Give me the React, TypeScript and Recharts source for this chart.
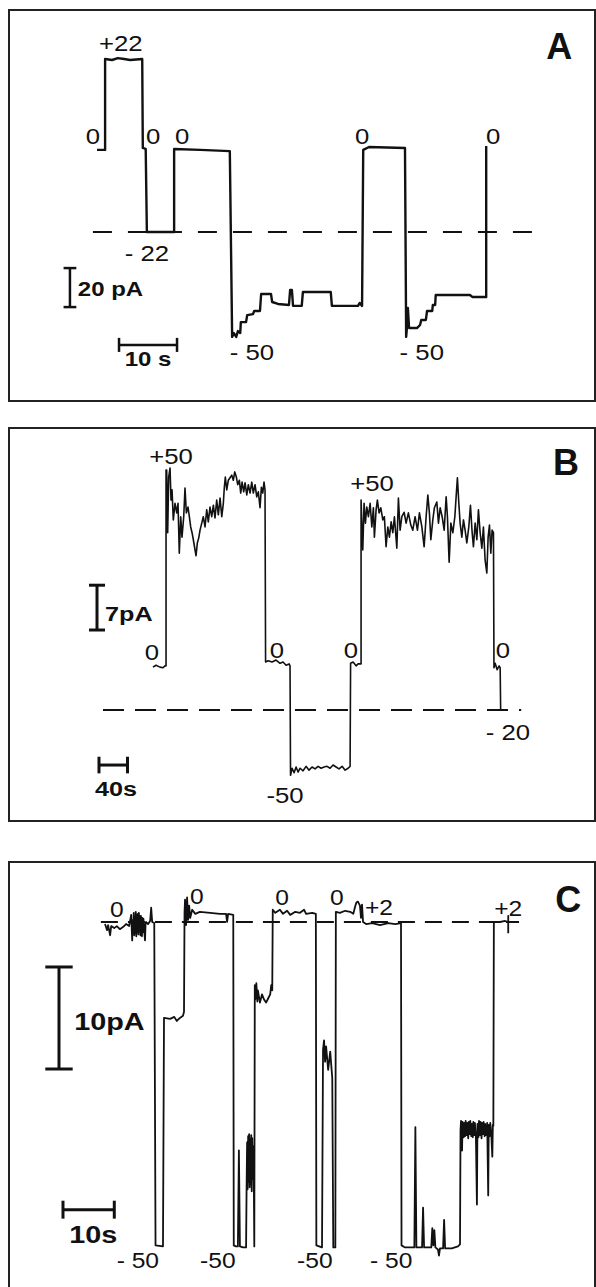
import React from "react";
import { LineChart, Line, XAxis, YAxis, ReferenceLine, ReferenceDot } from "recharts";

const FONT = '"Liberation Sans", Arial, Helvetica, sans-serif';
const INK = "#111";

// ---------- Panel A : time (s), current (pA) ----------
const traceA: [number, number][] = [
  [0, 42.1], [1.4, 42.1], [1.4, 88.7], [2.6, 88.2], [3.6, 89.2], [4.7, 88.7], [5.7, 88.2],
  [7.8, 88.7], [7.9, 43.1], [8.4, 42.6], [8.6, 0], [13.3, 0], [13.3, 42.6], [17.8, 42.1],
  [22.9, 41.5], [23.3, -53.8], [23.6, -51.8], [24.0, -53.8], [24.3, -50.8], [24.7, -51.8],
  [24.8, -46.2], [25.7, -46.2], [25.9, -42.6], [26.9, -42.1], [27.1, -40.5], [28.1, -40.5],
  [28.3, -31.8], [30.0, -31.8], [30.2, -35.9], [31.2, -36.9], [33.1, -37.4], [33.3, -29.7],
  [33.6, -29.7], [33.8, -37.9], [35.3, -37.9], [35.5, -30.8], [40.3, -30.8], [40.5, -37.9],
  [45.0, -37.9], [45.3, -36.4], [45.7, -37.9], [45.9, 42.1], [46.9, 43.6], [53.1, 43.1],
  [53.3, -53.8], [53.4, -50.3], [53.6, -39.0], [53.8, -49.2], [55.2, -49.2], [55.7, -47.7],
  [55.9, -45.1], [56.7, -45.1], [56.9, -40.5], [57.8, -40.5], [57.9, -37.4], [58.3, -37.4],
  [58.4, -32.3], [64.3, -32.3], [64.7, -33.3], [67.1, -33.3], [67.1, 42.1], [67.1, 44.1],
];
// holding-voltage tags (mV): time, current, text
const tagsA: [number, number, string][] = [
  [4.1, 96.9, "+22"], [-0.7, 49.2, "0"], [9.7, 49.2, "0"], [14.7, 49.2, "0"],
  [45.7, 49.2, "0"], [68.3, 49.2, "0"], [8.6, -10.8, "- 22"], [26.7, -61.5, "- 50"],
  [56.0, -61.5, "- 50"],
];

// ---------- Panel B ----------
const traceB: [number, number][] = [
  [0, 6.7], [4.2, 7.0], [9.8, 6.7], [14.0, 6.6], [16.8, 6.9], [18.3, 6.9], [18.3, 37.5],
  [19.2, 37.5], [20.6, 27.7], [22.0, 36.4], [23.9, 37.8], [25.3, 32.8], [26.7, 34.4],
  [28.5, 29.7], [30.9, 32.3], [33.3, 30.8], [35.1, 32.3], [36.9, 24.5], [38.9, 30.2],
  [40.7, 27.0], [43.1, 30.2], [44.9, 34.7], [46.8, 30.8], [49.1, 31.7], [51.0, 30.2],
  [52.9, 28.6], [54.8, 27.7], [56.6, 26.6], [59.0, 25.0], [60.4, 24.1], [62.2, 26.1],
  [64.2, 26.9], [66.0, 28.1], [68.4, 29.2], [70.6, 30.2], [73.0, 28.6], [75.4, 31.3],
  [77.6, 29.4], [80.0, 31.7], [82.4, 30.2], [84.7, 32.0], [87.0, 30.0], [89.4, 32.8],
  [91.7, 30.5], [94.1, 33.1], [96.5, 30.2], [98.7, 32.3], [100.1, 34.8], [101.5, 36.4],
  [103.5, 34.4], [105.7, 35.9], [108.1, 36.3], [110.5, 36.7], [112.7, 35.9], [114.7, 37.2],
  [117.0, 36.4], [118.9, 35.2], [121.2, 35.9], [123.1, 33.9], [125.0, 35.6], [127.3, 34.1],
  [129.2, 35.5], [131.6, 33.6], [133.8, 35.2], [136.2, 33.9], [138.6, 35.6], [140.8, 33.9],
  [143.2, 35.2], [145.6, 33.3], [147.8, 34.1], [150.2, 31.6], [152.1, 34.8], [154.0, 33.9],
  [155.8, 35.6], [157.2, 34.4], [158.0, 7.5], [161.5, 7.7], [167.1, 7.5], [172.7, 7.8],
  [178.3, 7.3], [182.5, 7.5], [186.7, 7.0], [191.0, 7.2], [192.3, 6.9], [193.0, -10.2],
  [195.2, -9.1], [198.0, -9.8], [200.8, -8.9], [203.6, -9.7], [206.4, -9.1], [210.6, -9.5],
  [214.8, -8.8], [219.0, -9.4], [223.2, -8.9], [227.4, -9.2], [231.7, -8.8], [235.9, -9.1],
  [240.1, -8.9], [244.3, -8.8], [248.5, -9.1], [252.7, -8.6], [256.9, -8.9], [261.1, -9.2],
  [265.4, -8.8], [269.6, -9.4], [273.8, -9.1], [276.6, -8.8], [277.3, 7.3], [280.8, 7.5],
  [285.0, 6.9], [287.8, 7.2], [292.0, 7.2], [292.0, 32.8], [294.4, 25.0], [296.2, 32.3],
  [298.1, 29.2], [300.0, 31.7], [302.3, 30.2], [304.7, 32.3], [307.1, 28.6], [309.3, 31.6],
  [310.7, 27.0], [313.1, 31.3], [314.9, 32.8], [317.3, 30.8], [319.7, 31.6], [322.5, 29.7],
  [324.7, 30.2], [327.1, 25.5], [329.5, 28.6], [331.8, 27.0], [334.2, 29.4], [336.5, 27.7],
  [338.8, 30.2], [342.2, 25.3], [344.4, 33.1], [346.8, 28.1], [349.2, 30.2], [352.4, 30.9],
  [355.2, 29.2], [358.4, 30.8], [361.8, 28.9], [364.6, 28.1], [367.8, 30.2], [371.1, 28.1],
  [373.9, 30.8], [377.3, 28.6], [380.5, 25.5], [383.3, 30.2], [385.7, 33.6], [387.9, 30.8],
  [389.9, 26.6], [392.7, 29.7], [394.9, 31.6], [398.3, 32.5], [400.6, 29.2], [403.0, 31.6],
  [405.8, 30.2], [408.6, 28.1], [411.4, 33.3], [413.2, 30.2], [415.6, 23.1], [418.0, 29.2],
  [420.8, 27.7], [423.6, 30.2], [425.4, 33.3], [427.2, 36.3], [429.2, 32.3], [431.0, 29.2],
  [433.4, 27.0], [435.7, 29.7], [438.0, 28.1], [440.4, 26.1], [443.2, 28.6], [445.5, 32.0],
  [447.9, 27.7], [449.7, 25.5], [452.1, 29.2], [454.5, 26.6], [456.7, 31.3], [459.1, 27.7],
  [461.5, 25.3], [463.7, 28.6], [466.1, 23.4], [468.5, 21.4], [470.3, 27.0], [472.2, 28.9],
  [474.1, 24.5], [475.9, 28.1], [477.8, 27.7], [478.5, 6.6], [480.2, 7.3], [483.0, 6.3],
  [485.8, 6.9], [487.2, 6.6], [487.9, 0], [491.4, 0],
];
const tagsB: [number, number, string][] = [
  [25.3, 39.7, "+50"], [307.4, 35.5, "+50"], [-1.4, 9.1, "0"], [174.0, 9.4, "0"],
  [277.9, 9.4, "0"], [491.2, 9.4, "0"], [498.2, -3.4, "- 20"], [185.3, -13.3, "-50"],
];

// ---------- Panel C ----------
const traceC: [number, number][] = [
  [0, -0.2], [0.4, -0.8], [0.6, -0.3], [1.0, -1.3], [1.2, -0.4], [1.8, -0.6], [2.3, -0.4],
  [2.9, -0.7], [3.5, -0.5], [4.1, -0.2], [4.7, -0.4], [5.1, 0.7], [5.3, -1.8], [5.4, 0.2],
  [5.5, -1.0], [5.6, 0.9], [5.7, -1.3], [5.8, 0.5], [5.9, -1.1], [6.0, 1.0], [6.1, -1.4],
  [6.2, 0.7], [6.3, -1.0], [6.4, 0.8], [6.5, -1.2], [6.6, 0.9], [6.7, -0.9], [6.8, 0.6],
  [6.9, -1.3], [7.0, 0.6], [7.1, -0.8], [7.2, -1.4], [7.3, 0.4], [7.4, -1.0], [7.5, 0.3],
  [7.6, -0.6], [7.8, -1.8], [7.9, -0.2], [8.0, 0], [8.4, -0.2], [8.8, 0.1],
  [9.0, 1.4], [9.2, 0], [9.6, -0.1], [9.85, -31.7], [11.3, -31.8], [11.5, -9.4],
  [12.7, -9.5], [13.5, -9.3], [14.0, -9.7], [14.6, -9.4], [15.2, -9.2], [15.4, -8.8],
  [15.5, 0.9], [15.6, 2.2], [15.8, -0.3], [16.0, 2.4], [16.2, 0.2], [16.4, 1.6], [16.6, 0.4],
  [17.0, 1.2], [17.6, 0.8], [18.5, 1.0], [20.5, 0.9], [22.4, 0.8], [23.6, 0.8], [23.8, 0],
  [24.0, 0.8], [25.0, 0.7], [25.1, -31.7], [25.5, -31.8], [25.9, -31.8], [26.1, -22.4],
  [26.3, -31.8], [26.9, -31.9], [27.5, -31.9], [27.6, -25.9], [27.7, -21.6], [27.8, -26.2],
  [27.9, -21.0], [28.0, -25.5], [28.1, -20.8], [28.2, -26.0], [28.3, -21.3], [28.4, -25.7],
  [28.5, -20.9], [28.6, -26.4], [28.7, -21.2], [28.8, -25.2], [28.9, -22.0], [29.0, -24.8],
  [29.1, -31.8], [29.2, -6.2],
  [29.3, -7.6], [29.5, -6.0], [29.7, -7.8], [29.8, -6.7], [30.2, -7.9], [30.6, -7.1],
  [31.0, -7.6], [31.4, -7.9], [31.8, -7.5], [32.2, -7.1], [32.4, -6.2], [32.6, -6.7],
  [32.7, 1.2], [33.2, 0.9], [34.1, 1.2], [34.7, 0.8], [35.5, 1.1], [36.1, 0.7], [37.1, 1.0],
  [38.0, 0.9], [38.8, 1.2], [39.2, 0.8], [40.4, 0.9], [41.1, 0.8], [41.2, -31.7],
  [42.3, -31.9], [42.5, -12.5], [42.7, -11.6], [42.9, -13.7], [43.1, -12.2], [43.5, -14.5],
  [43.9, -12.7], [44.3, -15.3], [44.5, -31.9], [44.9, -31.9], [45.0, 1.0], [45.8, 0.9],
  [46.8, 1.1], [47.8, 1.0], [48.4, 0.8], [48.8, 1.6], [49.0, 1.9], [49.3, 2.0], [49.7, 1.6],
  [49.9, 0.4], [50.1, 1.7], [50.3, 0], [50.9, -0.2], [52.1, -0.1], [53.6, -0.3],
  [55.2, -0.1], [56.6, -0.2], [57.7, -0.1], [57.8, -31.7], [58.5, -31.9], [60.3, -31.9],
  [60.5, -20.1], [60.7, -31.9], [61.8, -31.9], [62.0, -28.0], [62.2, -31.9], [63.6, -31.9],
  [63.8, -30.0], [64.0, -31.7], [64.2, -30.2], [64.4, -31.9], [64.9, -32.1], [65.1, -32.7],
  [65.3, -32.0], [65.9, -32.0], [66.1, -29.2], [66.3, -32.0], [67.6, -32.0], [68.8, -31.8],
  [69.2, -31.6], [69.3, -20.4], [69.4, -19.5], [69.5, -21.0], [69.6, -22.4], [69.7, -19.6],
  [69.9, -21.1], [70.0, -19.7], [70.2, -21.0], [70.3, -19.5], [70.5, -20.9], [70.6, -19.7],
  [70.8, -21.2], [70.9, -19.6], [71.1, -20.8], [71.2, -19.5], [71.4, -21.0], [71.5, -19.8],
  [71.7, -21.1], [71.8, -19.6], [72.0, -20.9], [72.1, -19.7], [72.3, -21.0], [72.5, -27.7],
  [72.6, -19.8], [72.8, -21.1], [72.9, -19.5], [73.1, -20.9], [73.2, -19.6], [73.4, -21.2],
  [73.5, -19.7], [73.7, -20.8], [73.8, -19.6], [74.0, -21.0], [74.1, -19.8], [74.3, -20.9],
  [74.5, -19.7], [74.7, -26.8], [74.8, -19.9], [75.0, -21.0], [75.1, -19.7], [75.3, -20.8],
  [75.5, -23.0], [75.6, -19.9], [75.7, -20.0], [75.8, 0], [77.0, 0],
  [78.0, 0.1], [78.6, 0], [78.6, 0.6], [78.6, -1.1],
];
const tagsC: [number, number, string][] = [
  [2.3, 1.2, "0"], [17.9, 2.5, "0"], [34.5, 2.4, "0"], [45.2, 2.4, "0"], [53.4, 1.4, "+2"],
  [78.6, 1.3, "+2"], [6.4, -33.2, "- 50"], [22.0, -33.2, "-50"], [40.9, -33.2, "-50"],
  [55.8, -33.2, "- 50"],
];

type Box = { left: number; top: number; width: number; height: number };
type Panel = {
  box: Box;
  open?: boolean;
  trace: [number, number][];
  xDomain: [number, number];
  yDomain: [number, number];
  zero: [number, number];
  dash: string;
  width: number;
  tags: [number, number, string][];
  tagSize: number;
  vBar: { x: number; y0: number; y1: number; cap: number; text: string; tx: number; ty: number };
  hBar: { x0: number; x1: number; y: number; cap: number; text: string; tx: number; ty: number };
  barWidth: number;
  barFont: number;
  letter: [number, number, string];
};

const tag =
  (text: string, size: number, bold = false, anchor: "middle" | "start" = "middle", sx = 1.12) =>
  (p: any) =>
    (
      <text
        transform={`translate(${p.cx},${p.cy}) scale(${sx},1)`}
        textAnchor={anchor}
        dominantBaseline="central"
        fontFamily={FONT}
        fontSize={size}
        fontWeight={bold ? 700 : 400}
        fill={INK}
      >
        {text}
      </text>
    );

function TracePanel(p: Panel) {
  const data = p.trace.map(([t, v]) => ({ t, v }));
  const { vBar, hBar } = p;
  const seg = (a: [number, number], b: [number, number], key: string) => (
    <ReferenceLine
      key={key}
      segment={[{ x: a[0], y: a[1] }, { x: b[0], y: b[1] }]}
      stroke={INK}
      strokeWidth={p.barWidth}
    />
  );
  return (
    <>
      <div
        style={{
          position: "absolute",
          boxSizing: "border-box",
          ...p.box,
          border: "2px solid #222",
          borderBottom: p.open ? "none" : "2px solid #222",
        }}
      />
      <div style={{ position: "absolute", left: p.box.left, top: p.box.top }}>
        <LineChart width={p.box.width} height={p.box.height} data={data} margin={{ top: 0, right: 0, bottom: 0, left: 0 }}>
          <XAxis type="number" dataKey="t" domain={p.xDomain} hide allowDataOverflow />
          <YAxis type="number" domain={p.yDomain} hide allowDataOverflow />
          <ReferenceLine
            segment={[{ x: p.zero[0], y: 0 }, { x: p.zero[1], y: 0 }]}
            stroke={INK}
            strokeWidth={2}
            strokeDasharray={p.dash}
          />
          <Line
            type="linear"
            dataKey="v"
            stroke={INK}
            strokeWidth={p.width}
            strokeLinejoin="round"
            dot={false}
            activeDot={false}
            isAnimationActive={false}
          />
          {seg([vBar.x, vBar.y0], [vBar.x, vBar.y1], "v")}
          {seg([vBar.x - vBar.cap, vBar.y0], [vBar.x + vBar.cap, vBar.y0], "vc0")}
          {seg([vBar.x - vBar.cap, vBar.y1], [vBar.x + vBar.cap, vBar.y1], "vc1")}
          {seg([hBar.x0, hBar.y], [hBar.x1, hBar.y], "h")}
          {seg([hBar.x0, hBar.y - hBar.cap], [hBar.x0, hBar.y + hBar.cap], "hc0")}
          {seg([hBar.x1, hBar.y - hBar.cap], [hBar.x1, hBar.y + hBar.cap], "hc1")}
          {p.tags.map(([t, v, s], i) => (
            <ReferenceDot key={`g${i}`} x={t} y={v} r={0} shape={tag(s, p.tagSize)} />
          ))}
          <ReferenceDot x={vBar.tx} y={vBar.ty} r={0} shape={tag(vBar.text, p.barFont, true, "start", 1.2)} />
          <ReferenceDot x={hBar.tx} y={hBar.ty} r={0} shape={tag(hBar.text, p.barFont, true, "middle", 1.2)} />
          <ReferenceDot x={p.letter[0]} y={p.letter[1]} r={0} shape={tag(p.letter[2], 36, true, "middle", 1)} />
        </LineChart>
      </div>
    </>
  );
}

export default function App() {
  return (
    <div style={{ position: "absolute", left: 0, top: 0, width: 596, height: 1287, background: "#fff", overflow: "hidden" }}>
      <TracePanel
        box={{ left: 8, top: 9, width: 588, height: 393 }}
        trace={traceA}
        xDomain={[-15.34, 86.03]}
        yDomain={[-87.18, 114.36]}
        zero={[-0.7, 77.2]}
        dash="19 16"
        width={2.4}
        tags={tagsA}
        tagSize={23}
        vBar={{ x: -4.66, y0: -38.5, y1: -18.5, cap: 1.1, text: "20 pA", tx: -3.3, ty: -29.2 }}
        hBar={{ x0: 3.8, x1: 13.8, y: -57.9, cap: 3.6, text: "10 s", tx: 8.8, ty: -65.1 }}
        barWidth={2.5}
        barFont={20}
        letter={[79.7, 94.9, "A"]}
      />
      <TracePanel
        box={{ left: 8, top: 427, width: 588, height: 395 }}
        trace={traceB}
        xDomain={[-203.5, 621.7]}
        yDomain={[-17.5, 44.22]}
        zero={[-70.2, 516.7]}
        dash="21 11"
        width={1.6}
        tags={tagsB}
        tagSize={23}
        vBar={{ x: -78.6, y0: 12.5, y1: 19.5, cap: 11.2, text: "7pA", tx: -67.4, ty: 15.0 }}
        hBar={{ x0: -75.8, x1: -35.8, y: -8.6, cap: 1.3, text: "40s", tx: -51.9, ty: -12.3 }}
        barWidth={3}
        barFont={21}
        letter={[579.6, 38.6, "B"]}
      />
      <TracePanel
        box={{ left: 8, top: 861, width: 588, height: 426 }}
        open
        trace={traceC}
        xDomain={[-18.91, 95.71]}
        yDomain={[-35.78, 5.98]}
        zero={[-0.8, 80.7]}
        dash="17 10"
        width={1.8}
        tags={tagsC}
        tagSize={22}
        vBar={{ x: -8.97, y0: -14.41, y1: -4.41, cap: 2.67, text: "10pA", tx: -6.0, ty: -9.8 }}
        hBar={{ x0: -8.19, x1: 1.81, y: -28.2, cap: 0.88, text: "10s", tx: -2.3, ty: -30.7 }}
        barWidth={3}
        barFont={24}
        letter={[90.3, 2.2, "C"]}
      />
    </div>
  );
}
